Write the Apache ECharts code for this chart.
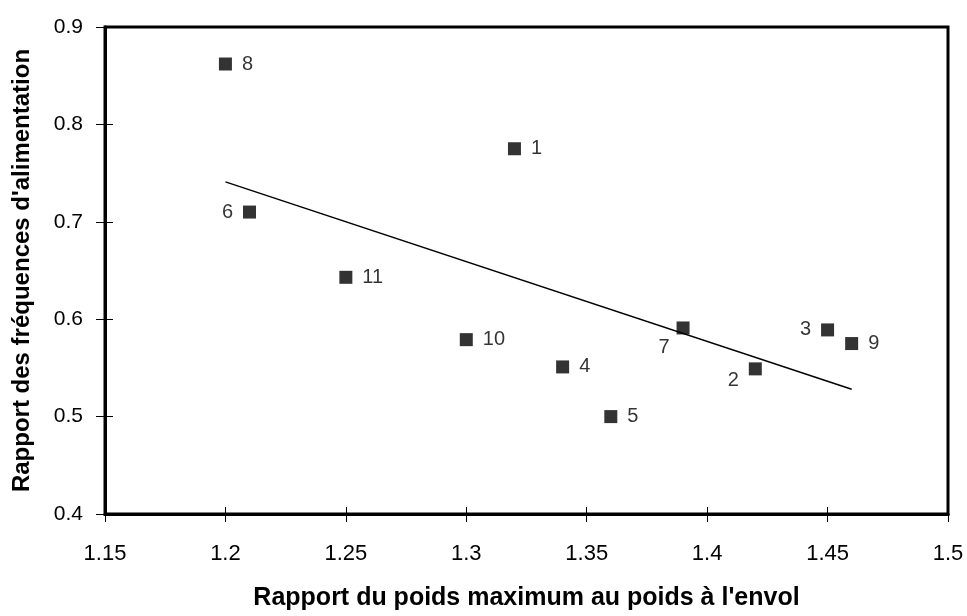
<!DOCTYPE html>
<html>
<head>
<meta charset="utf-8">
<script src="https://cdn.jsdelivr.net/npm/echarts@6/dist/echarts.min.js"></script>
<style>
  html, body { margin: 0; padding: 0; background: #fff; }
  #chart { width: 967px; height: 616px; }
</style>
</head>
<body>
<div id="chart"></div>
<script>
// numbered points
const pointIds = ['1', '2', '3', '4', '5', '6', '7', '8', '9', '10', '11'];
const pointX = [1.32, 1.42, 1.45, 1.34, 1.36, 1.21, 1.39, 1.20, 1.46, 1.30, 1.25];
const pointY = [0.775, 0.549, 0.589, 0.551, 0.500, 0.710, 0.591, 0.862, 0.575, 0.579, 0.643];

// regression line end points
const trendX = [1.20, 1.46];
const trendY = [0.741, 0.528];

const xTitle = "Rapport du poids maximum au poids à l'envol";
const yTitle = "Rapport des fréquences d'alimentation";

(function () {
  const chart = echarts.init(document.getElementById('chart'));
  const font = '"Liberation Sans", Arial, sans-serif';

  // where each number sits next to its square
  const labelPlace = {
    '6': { position: 'left', distance: 10 },
    '3': { position: 'left', distance: 10 },
    '2': { position: 'left', distance: 10, offset: [0, 12] },
    '7': { position: 'left', distance: 7, offset: [0, 20] }
  };

  const points = pointIds.map((id, i) => {
    const place = labelPlace[id] || { position: 'right', distance: 10 };
    return {
      value: [pointX[i], pointY[i]],
      name: id,
      label: Object.assign({}, place)
    };
  });

  const grid = { left: 105, right: 19, top: 27, bottom: 94 };

  const baseAxis = {
    axisLine: { show: true, lineStyle: { color: '#000', width: 3 } },
    splitLine: { show: false }
  };

  const option = {
    backgroundColor: '#fff',
    animation: false,
    grid: Object.assign({ show: true, borderColor: '#000', borderWidth: 3, backgroundColor: 'transparent' }, grid),
    xAxis: [
      Object.assign({}, baseAxis, {
        type: 'value', min: 1.15, max: 1.5, interval: 0.05,
        name: xTitle, nameLocation: 'middle', nameGap: 72,
        nameTextStyle: { fontFamily: font, fontWeight: 'bold', fontSize: 25, color: '#000' },
        axisTick: { show: true, length: 8, lineStyle: { color: '#000', width: 1 } },
        axisLabel: { fontFamily: font, fontSize: 22, color: '#000', margin: 29,
          formatter: v => String(+v.toFixed(2)) }
      }),
      Object.assign({}, baseAxis, {
        type: 'value', min: 1.15, max: 1.5, interval: 0.05, position: 'bottom',
        axisTick: { show: true, inside: true, length: 7, lineStyle: { color: '#000', width: 1 } },
        axisLabel: { show: false }
      })
    ],
    yAxis: [
      Object.assign({}, baseAxis, {
        type: 'value', min: 0.4, max: 0.9, interval: 0.1,
        name: yTitle, nameLocation: 'middle', nameGap: 71,
        nameTextStyle: { fontFamily: font, fontWeight: 'bold', fontSize: 24, color: '#000' },
        axisTick: { show: true, length: 9, lineStyle: { color: '#000', width: 1 } },
        axisLabel: { fontFamily: font, fontSize: 21, color: '#000', margin: 22,
          formatter: v => String(+v.toFixed(1)) }
      }),
      Object.assign({}, baseAxis, {
        type: 'value', min: 0.4, max: 0.9, interval: 0.1, position: 'left',
        axisTick: { show: true, inside: true, length: 8, lineStyle: { color: '#000', width: 1 } },
        axisLabel: { show: false }
      })
    ],
    series: [
      {
        type: 'line',
        data: trendX.map((x, i) => [x, trendY[i]]),
        showSymbol: false,
        lineStyle: { color: '#000', width: 1.5 },
        z: 2
      },
      {
        type: 'scatter',
        symbol: 'rect',
        symbolSize: 13,
        itemStyle: { color: '#000' },
        label: {
          show: true,
          formatter: '{b}',
          fontFamily: font,
          fontSize: 20,
          color: '#000'
        },
        data: points,
        z: 3
      }
    ]
  };

  chart.setOption(option);
  window.addEventListener('resize', () => chart.resize());
})();
</script>
</body>
</html>
